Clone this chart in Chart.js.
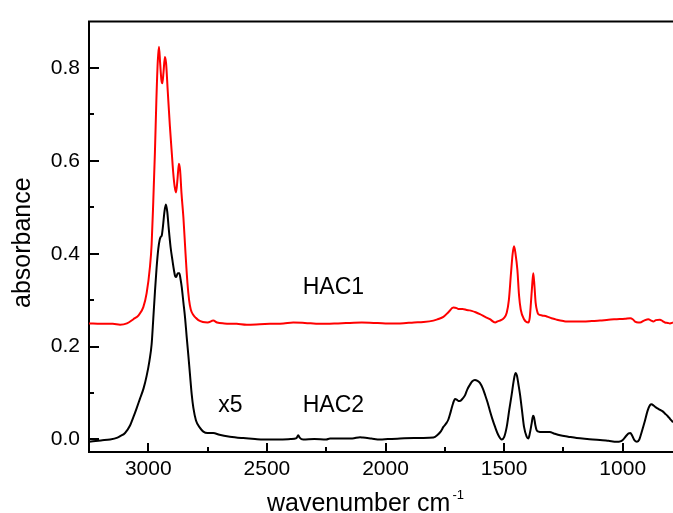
<!DOCTYPE html>
<html>
<head>
<meta charset="utf-8">
<script src="https://cdn.jsdelivr.net/npm/chart.js@4/dist/chart.umd.min.js"></script>
<style>
  html, body { margin: 0; padding: 0; background: #fff; }
  #spectra { display: block; }
</style>
</head>
<body>
<canvas id="spectra" width="673" height="513"></canvas>
<script>
/* IR absorbance spectra, HAC1 (offset) and HAC2 (x5) */

// wavenumber (cm-1) / absorbance pairs
const HAC1_WN  = [3250, 3200, 3150, 3119, 3090, 3063, 3040, 3021, 3007, 2993, 2986, 2979, 2972, 2966, 2960, 2955, 2950, 2945, 2941, 2936, 2930, 2925, 2918, 2909, 2900, 2895, 2889, 2883, 2877, 2871, 2866, 2860, 2852, 2843, 2835, 2828, 2821, 2810, 2800, 2789, 2770, 2750, 2726, 2710, 2680, 2627, 2585, 2530, 2487, 2430, 2389, 2340, 2276, 2200, 2150, 2100, 2050, 2000, 1939, 1880, 1840, 1798, 1780, 1756, 1735, 1714, 1700, 1693, 1675, 1658, 1645, 1637, 1620, 1602, 1580, 1560, 1538, 1525, 1518, 1500, 1489, 1480, 1471, 1464, 1458, 1452, 1444, 1437, 1430, 1416, 1398, 1392, 1387, 1382, 1377, 1372, 1367, 1360, 1356, 1340, 1320, 1300, 1278, 1250, 1236, 1200, 1166, 1130, 1096, 1060, 1025, 990, 968, 958, 948, 935, 927, 910, 892, 880, 871, 860, 843, 832, 822, 810, 801, 788];
const HAC1_ABS = [0.250, 0.249, 0.249, 0.247, 0.250, 0.259, 0.268, 0.285, 0.315, 0.372, 0.420, 0.513, 0.620, 0.730, 0.815, 0.846, 0.810, 0.775, 0.767, 0.790, 0.824, 0.810, 0.750, 0.675, 0.610, 0.575, 0.545, 0.532, 0.560, 0.594, 0.580, 0.530, 0.478, 0.400, 0.337, 0.300, 0.280, 0.268, 0.262, 0.257, 0.253, 0.252, 0.256, 0.252, 0.250, 0.249, 0.247, 0.248, 0.249, 0.250, 0.252, 0.251, 0.249, 0.250, 0.251, 0.252, 0.251, 0.250, 0.250, 0.252, 0.253, 0.256, 0.259, 0.264, 0.274, 0.284, 0.283, 0.281, 0.281, 0.279, 0.278, 0.277, 0.274, 0.270, 0.264, 0.259, 0.252, 0.255, 0.256, 0.262, 0.273, 0.300, 0.358, 0.400, 0.416, 0.400, 0.365, 0.310, 0.280, 0.259, 0.252, 0.262, 0.294, 0.330, 0.358, 0.330, 0.294, 0.275, 0.270, 0.267, 0.265, 0.261, 0.258, 0.255, 0.254, 0.254, 0.254, 0.255, 0.256, 0.258, 0.259, 0.260, 0.261, 0.259, 0.254, 0.252, 0.252, 0.256, 0.259, 0.256, 0.254, 0.257, 0.258, 0.255, 0.252, 0.251, 0.250, 0.252];

const HAC2_WN  = [3250, 3200, 3161, 3130, 3119, 3098, 3077, 3063, 3050, 3035, 3020, 3007, 2995, 2986, 2979, 2972, 2965, 2958, 2952, 2948, 2943, 2938, 2932, 2926, 2920, 2914, 2906, 2898, 2892, 2887, 2882, 2876, 2869, 2864, 2859, 2852, 2845, 2838, 2831, 2824, 2817, 2810, 2799, 2782, 2768, 2750, 2726, 2700, 2656, 2600, 2550, 2515, 2450, 2400, 2375, 2368, 2362, 2347, 2300, 2250, 2234, 2180, 2140, 2107, 2095, 2060, 2023, 1990, 1939, 1880, 1840, 1798, 1780, 1766, 1756, 1745, 1735, 1725, 1715, 1707, 1700, 1693, 1686, 1675, 1665, 1655, 1644, 1635, 1623, 1612, 1602, 1590, 1581, 1570, 1560, 1550, 1538, 1525, 1510, 1500, 1489, 1478, 1468, 1460, 1452, 1446, 1440, 1433, 1424, 1416, 1405, 1398, 1392, 1384, 1378, 1374, 1368, 1363, 1355, 1340, 1320, 1307, 1290, 1264, 1230, 1194, 1150, 1096, 1060, 1025, 1010, 1000, 985, 975, 968, 960, 950, 940, 930, 920, 912, 906, 895, 885, 878, 870, 860, 850, 840, 830, 822, 810, 800, 788];
const HAC2_ABS = [-0.005, -0.002, 0.000, 0.004, 0.007, 0.014, 0.030, 0.048, 0.066, 0.088, 0.110, 0.137, 0.170, 0.205, 0.260, 0.318, 0.370, 0.410, 0.430, 0.436, 0.440, 0.460, 0.490, 0.506, 0.490, 0.455, 0.414, 0.385, 0.365, 0.352, 0.350, 0.358, 0.358, 0.345, 0.328, 0.295, 0.262, 0.220, 0.180, 0.138, 0.097, 0.068, 0.041, 0.025, 0.017, 0.014, 0.014, 0.010, 0.006, 0.003, 0.001, 0.000, 0.000, 0.001, 0.003, 0.009, 0.004, 0.000, 0.001, 0.000, 0.002, 0.002, 0.002, 0.005, 0.004, 0.002, 0.000, 0.001, 0.002, 0.003, 0.003, 0.004, 0.010, 0.018, 0.027, 0.034, 0.043, 0.060, 0.078, 0.087, 0.086, 0.083, 0.083, 0.088, 0.095, 0.108, 0.118, 0.125, 0.128, 0.126, 0.122, 0.110, 0.097, 0.080, 0.062, 0.045, 0.027, 0.010, 0.000, 0.005, 0.027, 0.065, 0.097, 0.125, 0.143, 0.138, 0.120, 0.097, 0.060, 0.027, 0.006, 0.002, 0.012, 0.034, 0.051, 0.048, 0.030, 0.020, 0.017, 0.016, 0.016, 0.016, 0.013, 0.009, 0.006, 0.003, 0.001, -0.001, -0.003, -0.005, -0.004, -0.001, 0.008, 0.013, 0.014, 0.008, -0.002, -0.005, 0.000, 0.016, 0.030, 0.041, 0.062, 0.074, 0.076, 0.073, 0.069, 0.066, 0.063, 0.060, 0.056, 0.050, 0.044, 0.037];

const X_TICKS = [3000, 2500, 2000, 1500, 1000];
const X_MINOR = [2750, 2250, 1750, 1250];
const Y_TICKS = [0, 0.2, 0.4, 0.6, 0.8];
const Y_MINOR = [0.1, 0.3, 0.5, 0.7];

// in-plot text, anchored in data units (left edge, baseline)
const NOTES = [
  { text: 'HAC1', wn: 2349, abs: 0.314 },
  { text: 'x5',   wn: 2705, abs: 0.060 },
  { text: 'HAC2', wn: 2349, abs: 0.060 },
];

const FONT = '"Liberation Sans", Arial, sans-serif';

const toPoints = (xs, ys) => xs.map((x, i) => ({ x, y: ys[i] }));

/* inward tick marks, top edge of the frame, axis titles and notes */
const frameAndText = {
  id: 'frameAndText',
  afterDraw(chart) {
    const { ctx, chartArea: a, scales: { x, y } } = chart;
    ctx.save();
    ctx.strokeStyle = '#000';
    ctx.lineWidth = 2;

    ctx.beginPath();
    ctx.moveTo(a.left - 1, a.top);
    ctx.lineTo(a.right, a.top);
    ctx.stroke();

    const tickX = (v, len) => {
      const px = Math.round(x.getPixelForValue(v));
      ctx.beginPath(); ctx.moveTo(px, a.bottom); ctx.lineTo(px, a.bottom - len); ctx.stroke();
    };
    const tickY = (v, len) => {
      const py = Math.round(y.getPixelForValue(v));
      ctx.beginPath(); ctx.moveTo(a.left, py); ctx.lineTo(a.left + len, py); ctx.stroke();
    };
    X_TICKS.forEach(v => tickX(v, 9));
    X_MINOR.forEach(v => tickX(v, 5));
    Y_TICKS.forEach(v => tickY(v, 10));
    Y_MINOR.forEach(v => tickY(v, 5));

    ctx.fillStyle = '#000';
    ctx.textBaseline = 'alphabetic';
    ctx.textAlign = 'left';

    // x title with superscript
    ctx.font = `25px ${FONT}`;
    const xt = 'wavenumber cm';
    ctx.fillText(xt, 267, 511);
    const w = ctx.measureText(xt).width;
    ctx.font = `13px ${FONT}`;
    ctx.fillText('-1', 267 + w + 2, 499);

    // y title
    ctx.save();
    ctx.translate(30, 308);
    ctx.rotate(-Math.PI / 2);
    ctx.font = `25px ${FONT}`;
    ctx.fillText('absorbance', 0, 0);
    ctx.restore();

    ctx.font = `23px ${FONT}`;
    NOTES.forEach(n => ctx.fillText(n.text, x.getPixelForValue(n.wn), y.getPixelForValue(n.abs)));

    ctx.restore();
  }
};

new Chart(document.getElementById('spectra'), {
  type: 'line',
  data: {
    datasets: [
      {
        label: 'HAC1',
        data: toPoints(HAC1_WN, HAC1_ABS),
        borderColor: '#ff0000',
        borderWidth: 2,
        pointRadius: 0,
        cubicInterpolationMode: 'monotone',
      },
      {
        label: 'HAC2',
        data: toPoints(HAC2_WN, HAC2_ABS),
        borderColor: '#000000',
        borderWidth: 2,
        pointRadius: 0,
        cubicInterpolationMode: 'monotone',
      },
    ],
  },
  options: {
    responsive: false,
    animation: false,
    events: [],
    layout: { padding: { top: 14, right: 0, left: 0, bottom: 0 } },
    plugins: { legend: { display: false }, tooltip: { enabled: false } },
    scales: {
      x: {
        type: 'linear',
        reverse: true,
        min: 788,
        max: 3250,
        afterFit: s => { s.height = 61; },
        afterBuildTicks: s => { s.ticks = X_TICKS.map(value => ({ value })); },
        grid: { display: false, drawTicks: false },
        border: { display: true, color: '#000', width: 2 },
        ticks: { color: '#000', padding: 5, maxRotation: 0, font: { family: FONT, size: 21 }, callback: v => String(v) },
      },
      y: {
        type: 'linear',
        min: -0.027,
        max: 0.9,
        afterFit: s => { s.width = 89; },
        afterBuildTicks: s => { s.ticks = Y_TICKS.map(value => ({ value })); },
        grid: { display: false, drawTicks: false },
        border: { display: true, color: '#000', width: 2 },
        ticks: { color: '#000', padding: 9, font: { family: FONT, size: 21 }, callback: v => v.toFixed(1) },
      },
    },
  },
  plugins: [frameAndText],
});
</script>
</body>
</html>
